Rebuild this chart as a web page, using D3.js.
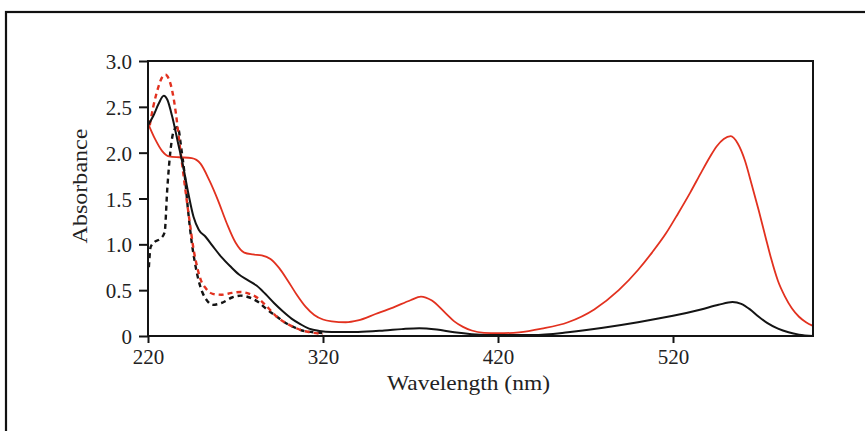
<!DOCTYPE html>
<html>
<head>
<meta charset="utf-8">
<script src="https://cdn.jsdelivr.net/npm/d3@7"></script>
<style>
  html, body { margin: 0; padding: 0; background: #fff; }
  svg { display: block; }
  text { font-family: "Liberation Serif", "Times New Roman", Times, serif; fill: #222; }
</style>
</head>
<body>
<svg id="chart" width="865" height="431"></svg>
<script>
// ---- Data --------------------------------------------------------
const X_TICKS = [220, 320, 420, 520];
const Y_TICKS = [0, 0.5, 1.0, 1.5, 2.0, 2.5, 3.0];

// red solid
const RED_SOLID = [
  [220,2.32],[224,2.15],[228,2.02],[232,1.96],[238,1.95],[245,1.94],[250,1.88],[255,1.7],
  [260,1.48],[265,1.23],[270,1.02],[275,0.91],[280,0.89],[285,0.88],[290,0.84],[295,0.74],
  [300,0.6],[305,0.45],[310,0.32],[315,0.23],[320,0.18],[325,0.16],[333,0.15],[340,0.17],
  [350,0.24],[360,0.31],[370,0.39],[376,0.43],[382,0.39],[390,0.25],[395,0.16],[400,0.1],
  [405,0.06],[412,0.035],[420,0.03],[432,0.04],[445,0.08],[460,0.15],[475,0.29],[489,0.5],
  [500,0.72],[508,0.91],[516,1.12],[523,1.34],[530,1.57],[536,1.78],[541,1.95],[545,2.07],
  [549,2.15],[553,2.18],[557,2.1],[561,1.92],[565,1.65],[569,1.37],[573,1.07],[576,0.85],
  [580,0.6],[584,0.43],[588,0.3],[592,0.21],[596,0.15],[600,0.11]
];

// black solid
const BLACK_SOLID = [
  [220,2.3],[223,2.4],[226,2.53],[229,2.62],[231,2.58],[234,2.38],[237,2.12],[240,1.86],
  [243,1.56],[246,1.3],[249,1.16],[253,1.08],[257,0.98],[262,0.86],[267,0.76],[272,0.67],
  [277,0.61],[282,0.55],[287,0.46],[292,0.36],[297,0.27],[302,0.19],[307,0.13],[312,0.08],
  [318,0.055],[325,0.045],[340,0.045],[355,0.06],[365,0.075],[375,0.085],[385,0.07],
  [395,0.04],[405,0.02],[420,0.01],[440,0.01],[460,0.04],[480,0.09],[500,0.15],[520,0.22],
  [536,0.29],[546,0.34],[554,0.37],[559,0.35],[564,0.29],[569,0.21],[574,0.14],[580,0.08],
  [586,0.04],[592,0.015],[600,0.0]
];

// red dashed
const RED_DASHED = [
  [221,2.3],[223,2.5],[226,2.72],[228,2.82],[230,2.85],[232,2.8],[234,2.66],[236,2.42],
  [238,2.1],[240,1.8],[242,1.5],[244,1.22],[246,0.95],[248,0.76],[250,0.62],[253,0.52],
  [257,0.46],[262,0.45],[268,0.47],[273,0.48],[278,0.46],[283,0.41],[288,0.32],[293,0.22],
  [298,0.15],[303,0.1],[308,0.06],[313,0.04],[320,0.02]
];

// black dashed
const BLACK_DASHED = [
  [220.5,0.75],[221.5,0.97],[224,1.03],[227,1.06],[229.5,1.13],[231,1.6],[233,2.05],
  [235,2.25],[237,2.28],[239,2.05],[241,1.75],[243,1.35],[245,1.02],[247,0.78],[249,0.6],
  [251,0.48],[254,0.38],[257,0.34],[262,0.36],[268,0.42],[273,0.44],[278,0.42],[283,0.37],
  [288,0.29],[293,0.22],[298,0.15],[303,0.1],[308,0.06],[313,0.045],[320,0.03]
];

// ---- Layout -------------------------------------------------------
const svg = d3.select('#chart');
const PLOT = { left: 148, right: 813, top: 61, bottom: 336 };
const RED = '#e2311f';
const INK = '#141414';

const x = d3.scaleLinear().domain([220, 600]).range([PLOT.left, PLOT.right]);
const y = d3.scaleLinear().domain([0, 3]).range([PLOT.bottom, PLOT.top]);

// outer frame around the whole figure
svg.append('rect')
  .attr('x', 6).attr('y', 12)
  .attr('width', 900).attr('height', 500)
  .attr('fill', 'none').attr('stroke', '#111').attr('stroke-width', 2.2);

// ---- Curves -------------------------------------------------------
const line = d3.line()
  .x(d => x(d[0]))
  .y(d => y(d[1]))
  .curve(d3.curveMonotoneX);

const curves = svg.append('g');

curves.append('path').datum(BLACK_DASHED)
  .attr('d', line).attr('fill', 'none')
  .attr('stroke', INK).attr('stroke-width', 2.4).attr('stroke-dasharray', '5,4');

curves.append('path').datum(RED_DASHED)
  .attr('d', line).attr('fill', 'none')
  .attr('stroke', RED).attr('stroke-width', 2.4).attr('stroke-dasharray', '5,4');

curves.append('path').datum(RED_SOLID)
  .attr('d', line).attr('fill', 'none')
  .attr('stroke', RED).attr('stroke-width', 1.8);

curves.append('path').datum(BLACK_SOLID)
  .attr('d', line).attr('fill', 'none')
  .attr('stroke', INK).attr('stroke-width', 2);

// ---- Axes ---------------------------------------------------------
const xAxis = svg.append('g')
  .attr('transform', `translate(0,${PLOT.bottom})`)
  .call(d3.axisBottom(x).tickValues(X_TICKS).tickSize(7).tickPadding(6).tickFormat(d3.format('d')));

const yAxis = svg.append('g')
  .attr('transform', `translate(${PLOT.left},0)`)
  .call(d3.axisLeft(y).tickValues(Y_TICKS).tickSize(9).tickPadding(7)
    .tickFormat(d => d === 0 ? '0' : d3.format('.1f')(d)));

[xAxis, yAxis].forEach(g => {
  g.select('.domain').remove();
  g.selectAll('.tick line').attr('stroke', INK).attr('stroke-width', 2);
  g.selectAll('.tick text')
    .attr('font-size', 21)
    .attr('fill', '#222');
});
yAxis.selectAll('.tick text').attr('dy', '0.36em');

// plot box
svg.append('rect')
  .attr('x', PLOT.left).attr('y', PLOT.top)
  .attr('width', PLOT.right - PLOT.left).attr('height', PLOT.bottom - PLOT.top)
  .attr('fill', 'none').attr('stroke', INK).attr('stroke-width', 2);

// ---- Titles -------------------------------------------------------
svg.append('text')
  .attr('x', (387 + 550) / 2).attr('y', 390)
  .attr('text-anchor', 'middle')
  .attr('font-size', 21)
  .attr('textLength', 163).attr('lengthAdjust', 'spacingAndGlyphs')
  .text('Wavelength (nm)');

svg.append('text')
  .attr('transform', 'translate(87,186) rotate(-90)')
  .attr('text-anchor', 'middle')
  .attr('font-size', 21)
  .attr('textLength', 115).attr('lengthAdjust', 'spacingAndGlyphs')
  .text('Absorbance');
</script>
</body>
</html>
